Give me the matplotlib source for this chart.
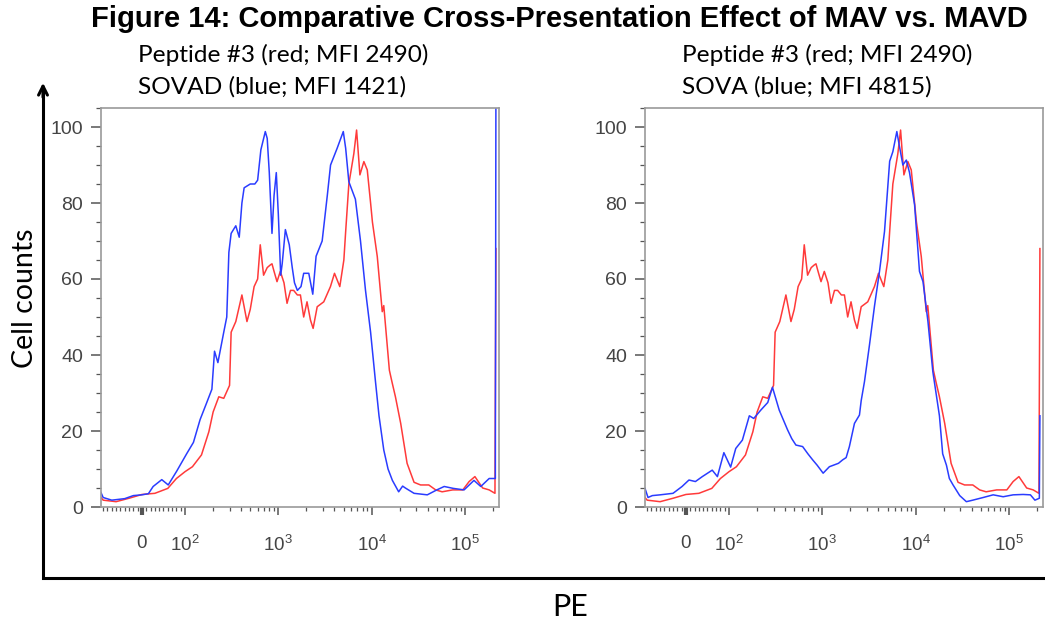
import numpy as np
import matplotlib
matplotlib.use("Agg")
import matplotlib.pyplot as plt
from matplotlib.ticker import FixedLocator, MultipleLocator

plt.rcParams["mathtext.default"] = "regular"

# PE intensity (x) and cell counts (y)
red_pe = [-95, -90, -60, -30, 0, 30, 60, 80, 100, 120, 150, 180, 200, 230, 260, 300, 312, 350,
          407, 461, 500, 550, 600, 640, 695, 760, 820, 855, 900, 968, 1050, 1150, 1240, 1350,
          1460, 1600, 1725, 1870, 2030, 2210, 2360, 2610, 3070, 3620, 4000, 4560, 5040, 5270,
          5700, 6450, 6900, 7490, 8260, 8980, 9750, 10200, 11500, 13000, 13500, 15500, 16500,
          18000, 20500, 24000, 28500, 33500, 41000, 48600, 57000, 74000, 95000, 111000, 128000,
          155000, 182000, 210000, 215000]
red_counts = [2.5, 1.8, 1.4, 2.3, 3.3, 3.6, 4.9, 7.5, 9.3, 10.6, 13.7, 19.8, 25, 29, 28.6, 32, 46, 48.8,
              55.8, 48.8, 52, 58, 60, 69, 61, 63, 63.7, 64, 62, 59.3, 62, 59, 53.6, 57,
              57, 55.8, 55.8, 50, 54, 49.2, 47, 52.7, 54, 58, 61.5, 58, 65, 72.5,
              85, 93, 99.2, 87.4, 90.9, 88.7, 80, 75, 65.9, 51.4, 53, 36, 33,
              29, 22, 11.5, 6.5, 5.8, 5.8, 4.5, 4, 4.5, 4.5, 6.7, 8,
              5, 4.5, 3.6, 68]

# SOVAD (blue, left panel)
sovad_pe = [-95, -90, -70, -40, -20, 0, 15, 26, 46, 61, 81, 104, 123, 145, 171, 194, 207, 225, 260,
            280, 295, 312, 350, 381, 407, 430, 500, 560, 600, 650, 725, 760, 800, 855, 900, 951,
            1000, 1060, 1100, 1190, 1310, 1410, 1490, 1600, 1750, 1870, 2120, 2340, 2540, 2950,
            3350, 3630, 4270, 4970, 5270, 5700, 6700, 7600, 8600, 9750, 11000, 12000, 13500,
            15000, 16700, 19500, 21500, 23000, 28500, 39500, 50000, 60000, 75000, 98000, 125000,
            148000, 182000, 212000, 215000]
sovad_counts = [3.8, 2.5, 1.8, 2.2, 3.0, 3.2, 3.5, 5.4, 7.2, 5.8, 9.5, 14, 17, 23, 27.5, 31, 41, 38, 46,
                50, 67, 72, 74, 71, 80, 84, 85, 85, 86, 94, 98.8, 97, 88, 72, 82, 88,
                77, 61, 64, 73, 69, 63, 59, 57, 58, 61.5, 61.5, 56, 66, 70,
                82, 90, 94.4, 98.8, 94.4, 85.6, 81, 70, 57, 46, 33, 24, 15,
                10, 7, 4, 5.5, 5, 3.6, 3.2, 4.5, 5.4, 4.9, 4.5, 7,
                5.4, 7.5, 7.5, 110]

# SOVA (blue, right panel)
sova_pe = [-95, -88, -78, -60, -30, -9, 7, 22, 38, 61, 73, 88, 104, 118, 139, 165, 184, 219, 260,
           292, 345, 424, 470, 521, 615, 700, 788, 880, 1020, 1190, 1490, 1650, 1800, 1950, 2210,
           2500, 2610, 2830, 3200, 3630, 4100, 4640, 5270, 5700, 6290, 6700, 7300, 7950, 8600,
           9750, 11000, 12000, 13560, 15300, 18000, 19500, 21400, 23000, 25200, 29700, 35000,
           41000, 53000, 67800, 86800, 111000, 142000, 170000, 190000, 212000, 215000]
sova_counts = [4.9, 2.5, 3.0, 3.2, 3.6, 5.4, 7.1, 6.7, 8, 9.7, 8, 14.3, 10.5, 15.4, 17.6, 24, 23.3, 25.5, 27.5,
               31.5, 25.5, 20.3, 18, 16.3, 15.9, 14, 12.4, 11, 8.9, 10.6, 11.5, 12.4, 13, 15.9, 22,
               24.2, 28, 33, 42.6, 53, 62, 72.5, 91, 93.5, 98.8, 95, 90, 91.3, 88,
               79.5, 62, 59.3, 48.8, 35.6, 24, 14, 11, 7.5, 5.8, 3, 1.4,
               1.8, 2.5, 3.2, 2.7, 3.2, 3.3, 3.2, 1.8, 2.3, 24]

panels = [
    ("Peptide #3 (red; MFI 2490)", "SOVAD (blue; MFI 1421)", sovad_pe, sovad_counts),
    ("Peptide #3 (red; MFI 2490)", "SOVA (blue; MFI 4815)", sova_pe, sova_counts),
]

major_ticks = [0, 100, 1000, 10000, 100000]
major_labels = ["0", "$10^2$", "$10^3$", "$10^4$", "$10^5$"]
minor_ticks = ([-v for v in range(10, 100, 10)] + list(range(10, 100, 10))
               + [m * 10 ** e for e in (2, 3, 4) for m in range(2, 10)] + [200000])


# FlowJo-like biexponential display: linear around 0, log above 100
def fwd(x):
    x = np.asarray(x, dtype=float)
    return np.where(x <= 100, x * 0.00462, 0.462 + np.log10(np.maximum(x, 100) / 100))


def inv(y):
    y = np.asarray(y, dtype=float)
    return np.where(y <= 0.462, y / 0.00462, 100 * 10 ** (np.maximum(y, 0.462) - 0.462))


fig = plt.figure(figsize=(10.45, 6.22), dpi=100)

tick_font = "Liberation Sans"
label_font = "Lato"
red = "#ff3a3a"
blue = "#2a3cff"
gray = "#9a9a9a"

lefts = [101 / 1045, 645 / 1045]
for (line1, line2, blue_pe, blue_counts), left in zip(panels, lefts):
    ax = fig.add_axes([left, 115 / 622, 398 / 1045, 399 / 622])
    ax.set_xscale("function", functions=(fwd, inv))
    ax.plot(red_pe, red_counts, color=red, lw=1.1)
    ax.plot(blue_pe, blue_counts, color=blue, lw=1.1)
    ax.set_xlim(-95, 232000)
    ax.set_ylim(0, 105)

    ax.xaxis.set_major_locator(FixedLocator(major_ticks))
    ax.set_xticklabels(major_labels)
    ax.xaxis.set_minor_locator(FixedLocator(minor_ticks))
    ax.yaxis.set_major_locator(MultipleLocator(20))
    ax.yaxis.set_minor_locator(MultipleLocator(5))

    ax.tick_params(axis="x", which="major", length=6, width=1.1, color="#555555",
                   pad=14, labelsize=13.5, labelcolor="#444444")
    ax.tick_params(axis="x", which="minor", length=3, width=0.9, color="#555555")
    ax.tick_params(axis="y", which="major", length=7, width=1.1, color="#555555",
                   pad=6, labelsize=14, labelcolor="#444444")
    ax.tick_params(axis="y", which="minor", length=3.5, width=0.9, color="#555555")
    ax.xaxis.get_major_ticks()[0].tick1line.set_color("black")
    ax.xaxis.get_major_ticks()[0].tick1line.set_markeredgewidth(3)
    for lab in ax.get_xticklabels() + ax.get_yticklabels():
        lab.set_fontfamily(tick_font)
    for sp in ax.spines.values():
        sp.set_color(gray)
        sp.set_linewidth(1.2)

    fig.text(left + 37 / 1045, 1 - 55 / 622, line1, fontsize=17.6, family=label_font,
             ha="left", va="center")
    fig.text(left + 37 / 1045, 1 - 87 / 622, line2, fontsize=17.6, family=label_font,
             ha="left", va="center")

fig.text(559 / 1045, 1 - 19 / 622, "Figure 14: Comparative Cross-Presentation Effect of MAV vs. MAVD",
         fontsize=21, fontweight="bold", family="Liberation Sans", ha="center", va="center")

# outer axis frame with arrow
frame = fig.add_axes([0, 0, 1, 1], zorder=-1)
frame.set_xlim(0, 1045)
frame.set_ylim(622, 0)
frame.axis("off")
frame.plot([43, 43, 1045], [90, 578, 578], color="black", lw=2.2, solid_joinstyle="miter")
frame.annotate("", xy=(43, 80), xytext=(43, 100),
               arrowprops=dict(arrowstyle="->", color="black", lw=2.2, mutation_scale=16))

fig.text(25 / 1045, 1 - 298 / 622, "Cell counts", rotation=90, fontsize=20.5, family=label_font,
         ha="center", va="center")
fig.text(570 / 1045, 1 - 607 / 622, "PE", fontsize=22, family=label_font,
         ha="center", va="center")

fig.savefig("out.png", dpi=100)
